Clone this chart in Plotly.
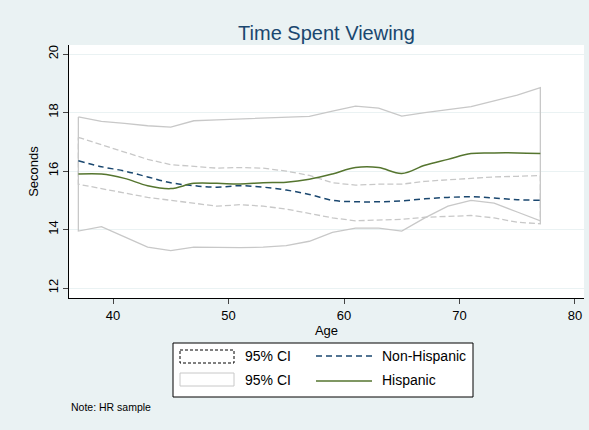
import plotly.graph_objects as go

ages = [37,39,41,43,45,47,49,51,53,55,57,59,61,63,65,67,69,71,73,75,77]
hisp_mean = [15.9,15.9,15.75,15.5,15.4,15.58,15.58,15.56,15.6,15.62,15.72,15.9,16.12,16.12,15.92,16.2,16.4,16.6,16.62,16.62,16.6]
hisp_hi = [17.85,17.7,17.63,17.55,17.5,17.72,17.75,17.78,17.8,17.82,17.87,18.05,18.22,18.15,17.88,18.0,18.1,18.2,18.4,18.6,18.85]
hisp_lo = [13.95,14.1,13.75,13.4,13.28,13.4,13.38,13.38,13.4,13.45,13.6,13.9,14.05,14.05,13.95,14.4,14.8,15.0,14.9,14.6,14.3]
nh_mean = [16.35,16.15,16.0,15.8,15.6,15.5,15.45,15.5,15.45,15.35,15.2,15.0,14.95,14.95,14.98,15.05,15.1,15.12,15.08,15.02,15.0]
nh_hi = [17.15,16.9,16.65,16.4,16.22,16.15,16.1,16.12,16.1,16.0,15.85,15.6,15.52,15.55,15.55,15.65,15.7,15.75,15.8,15.82,15.85]
nh_lo = [15.55,15.4,15.25,15.1,14.98,14.9,14.8,14.85,14.8,14.7,14.55,14.4,14.3,14.32,14.35,14.42,14.45,14.48,14.4,14.25,14.2]

def poly(hi, lo):
    xs = ages + ages[::-1] + [ages[0]]
    ys = hi + lo[::-1] + [hi[0]]
    return xs, ys

fig = go.Figure()
x, y = poly(hisp_hi, hisp_lo)
fig.add_trace(go.Scatter(x=x, y=y, mode="lines", line=dict(color="#c8c8c8", width=1.3), showlegend=False))
x, y = poly(nh_hi, nh_lo)
fig.add_trace(go.Scatter(x=x, y=y, mode="lines", line=dict(color="#c8c8c8", width=1.3, dash="6px,3px"), showlegend=False))
fig.add_trace(go.Scatter(x=ages, y=nh_mean, mode="lines", line=dict(color="#1a476f", width=1.5, dash="6px,4px", shape="spline"), showlegend=False))
fig.add_trace(go.Scatter(x=ages, y=hisp_mean, mode="lines", line=dict(color="#55752f", width=1.5, shape="spline"), showlegend=False))

W, H = 589, 430
L, R, T, B = 69, 584, 45, 298
def px(v): return (v - L) / (R - L)
def py(v): return (B - v) / (B - T)

shapes = [
    dict(type="rect", xref="paper", yref="paper", x0=px(173), x1=px(473), y0=py(343), y1=py(397), line=dict(color="black", width=1), fillcolor="white", layer="below"),
    dict(type="rect", xref="paper", yref="paper", x0=px(180), x1=px(234), y0=py(350), y1=py(363), line=dict(color="black", width=1, dash="3px,2px")),
    dict(type="rect", xref="paper", yref="paper", x0=px(180), x1=px(234), y0=py(373), y1=py(386), line=dict(color="#c8c8c8", width=1)),
    dict(type="line", xref="paper", yref="paper", x0=px(316), x1=px(372), y0=py(356), y1=py(356), line=dict(color="#1a476f", width=1.5, dash="6px,4px")),
    dict(type="line", xref="paper", yref="paper", x0=px(316), x1=px(372), y0=py(381), y1=py(381), line=dict(color="#55752f", width=1.5)),
]
f = dict(family="Liberation Sans, Arial", size=13, color="black")
fl = dict(family="Liberation Sans, Arial", size=14, color="black")
ann = [
    dict(text="95% CI", x=px(243), y=py(356), xref="paper", yref="paper", xanchor="left", yanchor="middle", showarrow=False, font=fl),
    dict(text="95% CI", x=px(243), y=py(380), xref="paper", yref="paper", xanchor="left", yanchor="middle", showarrow=False, font=fl),
    dict(text="Non-Hispanic", x=px(380), y=py(356), xref="paper", yref="paper", xanchor="left", yanchor="middle", showarrow=False, font=fl),
    dict(text="Hispanic", x=px(380), y=py(380), xref="paper", yref="paper", xanchor="left", yanchor="middle", showarrow=False, font=fl),
    dict(text="Note: HR sample", x=px(69), y=py(407), xref="paper", yref="paper", xanchor="left", yanchor="middle", showarrow=False, font=dict(family="Liberation Sans, Arial", size=10.5, color="black")),
]

fig.update_layout(
    width=W, height=H, margin=dict(l=L, r=W - R, t=T, b=H - B),
    paper_bgcolor="#eaf2f3", plot_bgcolor="white",
    title=dict(text="Time Spent Viewing", xref="paper", x=0.5, xanchor="center", y=1 - 33 / H, yanchor="middle",
               font=dict(family="Liberation Sans, Arial", size=20, color="#1a476f")),
    shapes=shapes, annotations=ann, showlegend=False,
    xaxis=dict(range=[36.19, 80.78], tickvals=[40, 50, 60, 70, 80], showgrid=False, zeroline=False,
               showline=True, linecolor="black", linewidth=1, ticks="outside", ticklen=5,
               ticklabeloverflow="allow", tickfont=f, title=dict(text="Age", font=f, standoff=2)),
    yaxis=dict(range=[11.66, 20.31], tickvals=[12, 14, 16, 18, 20], showgrid=True, gridcolor="#eaf2f3",
               zeroline=False, showline=True, linecolor="black", linewidth=1, ticks="outside", ticklen=5,
               tickangle=-90, tickfont=f, title=dict(text="Seconds", font=f, standoff=4)),
)
fig.write_html("out.html", config={"displayModeBar": False})
with open("out.html", encoding="utf-8") as fh:
    html = fh.read()
html = html.replace("<head>", "<head><style>html,body{margin:0;padding:0;overflow:hidden;}</style>", 1)
with open("out.html", "w", encoding="utf-8") as fh:
    fh.write(html)
